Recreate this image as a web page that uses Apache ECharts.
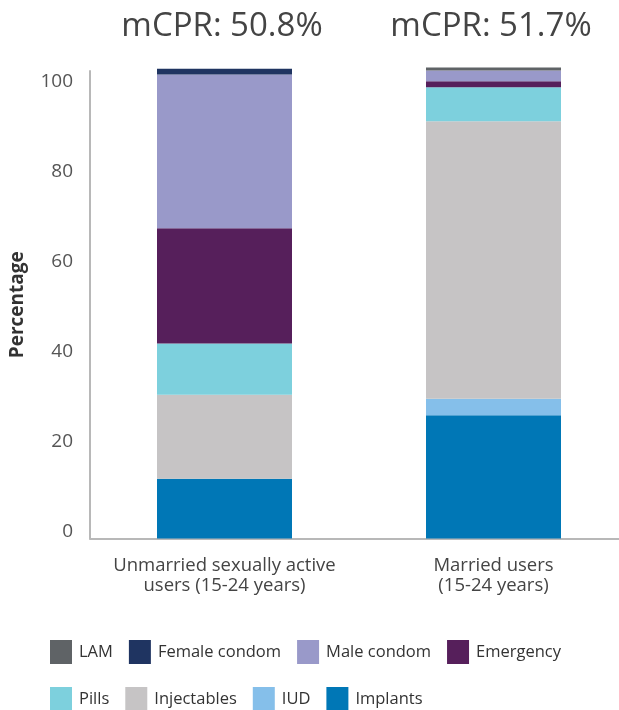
<!DOCTYPE html>
<html>
<head>
<meta charset="utf-8">
<script src="https://cdn.jsdelivr.net/npm/echarts@6/dist/echarts.min.js"></script>
<style>
  html, body { margin: 0; padding: 0; background: #fff; }
  #chart { width: 619px; height: 710px; }
</style>
</head>
<body>
<div id="chart"></div>
<script>
// categories and headline numbers
const categories = ['Unmarried sexually active\nusers (15-24 years)', 'Married users\n(15-24 years)'];
const mcprLabels = ['mCPR: 50.8%', 'mCPR: 51.7%'];
const yTicks = [0, 20, 40, 60, 80, 100];

// method mix, percent of users (stack order bottom to top)
const implants = [13.3, 27.4];
const iud = [0, 3.7];
const injectables = [18.7, 61.7];
const pills = [11.4, 7.6];
const emergency = [25.6, 1.3];
const maleCondom = [34.2, 2.4];
const femaleCondom = [1.3, 0];
const lam = [0, 0.7];

const font = '"Open Sans", "Noto Sans", sans-serif';

const methods = [
  { name: 'Implants', data: implants, color: '#0077b6' },
  { name: 'IUD', data: iud, color: '#85bfea' },
  { name: 'Injectables', data: injectables, color: '#c6c4c5' },
  { name: 'Pills', data: pills, color: '#7dd0dd' },
  { name: 'Emergency', data: emergency, color: '#561f5b' },
  { name: 'Male condom', data: maleCondom, color: '#9999c9' },
  { name: 'Female condom', data: femaleCondom, color: '#1f3461' },
  { name: 'LAM', data: lam, color: '#5f6366' }
];

const chart = echarts.init(document.getElementById('chart'));

const legendBase = {
  left: 50,
  padding: 0,
  itemWidth: 22,
  itemHeight: 24,
  itemGap: 16,
  icon: 'rect',
  selectedMode: false,
  textStyle: { fontFamily: font, fontSize: 16.5, color: '#333', padding: [0, 0, 0, 2] }
};

const option = {
  animation: false,
  textStyle: { fontFamily: font },
  title: mcprLabels.map((t, i) => ({
    text: t,
    left: i === 0 ? 217 : 486,
    top: 5,
    textAlign: 'center',
    textStyle: { fontFamily: font, fontSize: 33, fontWeight: 'normal', color: '#444' }
  })),
  legend: [
    Object.assign({}, legendBase, { top: 640, data: ['LAM', 'Female condom', 'Male condom', 'Emergency'] }),
    Object.assign({}, legendBase, { top: 687, data: ['Pills', 'Injectables', 'IUD', 'Implants'] })
  ],
  grid: { left: 90, right: -9, top: 71, bottom: 171.5, containLabel: false, outerBoundsMode: 'none' },
  xAxis: {
    type: 'category',
    data: categories,
    axisLine: { lineStyle: { color: '#b8b8b8', width: 2 } },
    axisTick: { show: false },
    axisLabel: { fontFamily: font, fontSize: 18.5, color: '#444', lineHeight: 20, margin: 17, interval: 0 }
  },
  yAxis: {
    type: 'value',
    min: 0,
    max: 104,
    interval: 20,
    name: 'Percentage',
    nameLocation: 'middle',
    nameGap: 63,
    nameRotate: 90,
    nameTextStyle: { fontFamily: font, fontSize: 19, fontWeight: 'bold', color: '#333' },
    axisLine: { show: true, lineStyle: { color: '#b8b8b8', width: 2 } },
    axisTick: { show: false },
    splitLine: { show: false },
    axisLabel: {
      fontFamily: font, fontSize: 19, color: '#555', margin: 17,
      verticalAlign: 'bottom', lineHeight: 14,
      showMaxLabel: false,
      formatter: v => (yTicks.indexOf(v) >= 0 ? String(v) : '')
    }
  },
  series: methods.map(m => ({
    name: m.name,
    type: 'bar',
    stack: 'total',
    barWidth: 135,
    clip: false,
    data: m.data,
    itemStyle: { color: m.color }
  }))
};

chart.setOption(option);
</script>
</body>
</html>
